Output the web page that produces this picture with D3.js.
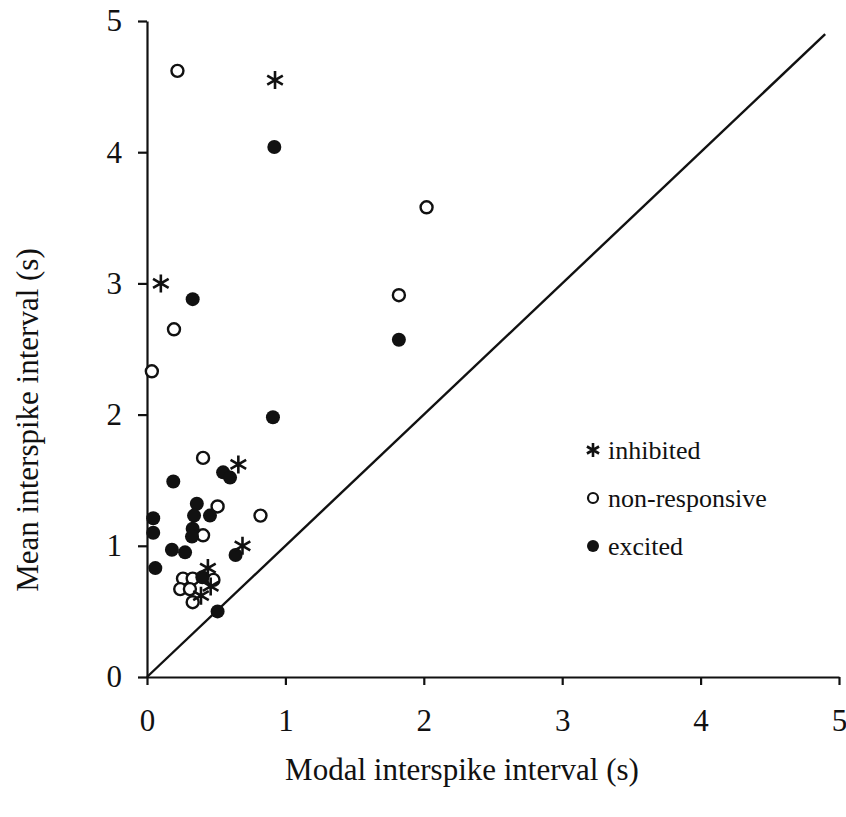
<!DOCTYPE html>
<html>
<head>
  <meta charset="utf-8">
  <title>Modal vs mean interspike interval</title>
  <style>
    body { margin: 0; background: #fff; }
    svg { font-family: "Liberation Serif", "Times New Roman", serif; }
    .axis path, .axis line { stroke: #111; stroke-width: 2.2px; }
    .axis text { font-size: 31px; fill: #111; font-family: "Liberation Serif", serif; }
  </style>
</head>
<body>
  <svg width="846" height="817"></svg>
  <script src="https://d3js.org/d3.v7.min.js"></script>
  <script>
    // values: [modal, mean] in seconds
    const inhibited = [
      [0.925, 4.55], [0.10, 3.0], [0.66, 1.62], [0.69, 1.00],
      [0.44, 0.83], [0.46, 0.69], [0.39, 0.62]
    ];
    const nonResponsive = [
      [0.22, 4.62], [2.02, 3.58], [1.82, 2.91], [0.195, 2.65], [0.035, 2.33],
      [0.405, 1.67], [0.51, 1.30], [0.82, 1.23], [0.405, 1.08],
      [0.26, 0.75], [0.33, 0.75], [0.48, 0.74], [0.24, 0.67], [0.31, 0.67], [0.33, 0.57]
    ];
    const excited = [
      [0.92, 4.04], [0.33, 2.88], [1.82, 2.57], [0.91, 1.98],
      [0.55, 1.56], [0.60, 1.52], [0.19, 1.49], [0.36, 1.32],
      [0.34, 1.23], [0.455, 1.23], [0.045, 1.21], [0.33, 1.13], [0.045, 1.10],
      [0.325, 1.07], [0.18, 0.97], [0.275, 0.95], [0.64, 0.93], [0.06, 0.83],
      [0.40, 0.76], [0.51, 0.50]
    ];
    const xTicks = [0, 1, 2, 3, 4, 5];
    const yTicks = [0, 1, 2, 3, 4, 5];
    const identityLine = [0, 4.9];
    const legendItems = ["inhibited", "non-responsive", "excited"];

    const svg = d3.select("svg");

    const x = d3.scaleLinear().domain([0, 5]).range([147, 839]);
    const y = d3.scaleLinear().domain([0, 5]).range([677, 21]);

    // axes
    svg.append("g")
        .attr("class", "axis")
        .attr("transform", "translate(0," + y(0) + ")")
        .call(d3.axisBottom(x).tickValues(xTicks).tickFormat(d3.format("d"))
              .tickSize(8).tickSizeOuter(0).tickPadding(24))
        .selectAll("text").attr("dy", "0.7em");

    svg.append("g")
        .attr("class", "axis")
        .attr("transform", "translate(" + x(0) + ",0)")
        .call(d3.axisLeft(y).tickValues(yTicks).tickFormat(d3.format("d"))
              .tickSize(9).tickSizeOuter(0).tickPadding(16));

    // y = x reference line
    svg.append("line")
        .attr("x1", x(identityLine[0])).attr("y1", y(identityLine[0]))
        .attr("x2", x(identityLine[1])).attr("y2", y(identityLine[1]))
        .attr("stroke", "#111")
        .attr("stroke-width", 2.4);

    // asterisk path centred on 0,0
    function star(r) {
      let p = "";
      [90, 30, 150].forEach(function(a) {
        const dx = r * Math.cos(a * Math.PI / 180), dy = r * Math.sin(a * Math.PI / 180);
        p += "M" + (-dx) + "," + (-dy) + "L" + dx + "," + dy;
      });
      return p;
    }

    svg.append("g").selectAll("circle")
        .data(nonResponsive)
        .enter().append("circle")
        .attr("cx", d => x(d[0]))
        .attr("cy", d => y(d[1]))
        .attr("r", 6)
        .attr("fill", "#fff")
        .attr("stroke", "#111")
        .attr("stroke-width", 2.4);

    svg.append("g").selectAll("circle")
        .data(excited)
        .enter().append("circle")
        .attr("cx", d => x(d[0]))
        .attr("cy", d => y(d[1]))
        .attr("r", 7)
        .attr("fill", "#111");

    svg.append("g").selectAll("path")
        .data(inhibited)
        .enter().append("path")
        .attr("transform", d => "translate(" + x(d[0]) + "," + y(d[1]) + ")")
        .attr("d", star(9))
        .attr("stroke", "#111")
        .attr("stroke-width", 2.6)
        .attr("fill", "none");

    // legend
    const legend = svg.append("g").attr("transform", "translate(593,450)");
    legendItems.forEach(function(name, i) {
      const g = legend.append("g").attr("transform", "translate(0," + i * 48 + ")");
      if (i === 0) {
        g.append("path").attr("d", star(7)).attr("stroke", "#111").attr("stroke-width", 2.6);
      } else if (i === 1) {
        g.append("circle").attr("r", 5).attr("fill", "#fff").attr("stroke", "#111").attr("stroke-width", 2.2);
      } else {
        g.append("circle").attr("r", 6).attr("fill", "#111");
      }
      g.append("text")
          .attr("x", 15)
          .attr("y", 9)
          .attr("font-size", 26)
          .attr("fill", "#111")
          .text(name);
    });

    // axis titles
    svg.append("text")
        .attr("x", 462)
        .attr("y", 780)
        .attr("text-anchor", "middle")
        .attr("font-size", 31)
        .attr("fill", "#111")
        .text("Modal interspike interval (s)");

    svg.append("text")
        .attr("transform", "translate(38,420) rotate(-90)")
        .attr("text-anchor", "middle")
        .attr("font-size", 31)
        .attr("fill", "#111")
        .text("Mean interspike interval (s)");
  </script>
</body>
</html>
